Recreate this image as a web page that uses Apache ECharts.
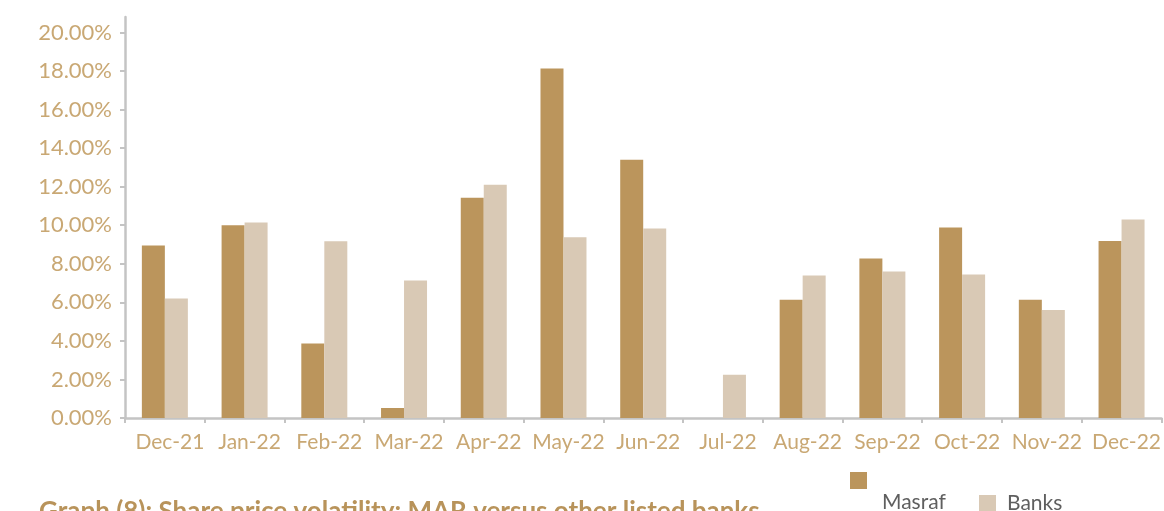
<!DOCTYPE html>
<html>
<head>
<meta charset="utf-8">
<script src="https://cdn.jsdelivr.net/npm/echarts@6/dist/echarts.min.js"></script>
<style>
  html, body { margin: 0; padding: 0; background: #fff; }
  #chart { width: 1164px; height: 511px; }
</style>
</head>
<body>
<div id="chart"></div>
<script>
  // months on the x axis
  var months = ['Dec-21', 'Jan-22', 'Feb-22', 'Mar-22', 'Apr-22', 'May-22', 'Jun-22',
                'Jul-22', 'Aug-22', 'Sep-22', 'Oct-22', 'Nov-22', 'Dec-22']
  // volatility, in %
  var masraf = [8.95, 10.0, 3.87, 0.52, 11.43, 18.13, 13.4, 0, 6.14, 8.27, 9.88, 6.14, 9.18]
  var banks = [6.2, 10.14, 9.17, 7.13, 12.1, 9.38, 9.83, 2.24, 7.39, 7.6, 7.44, 5.6, 10.29]
  var yTicks = [0, 2, 4, 6, 8, 10, 12, 14, 16, 18, 20]

  var labelColor = '#c9a874'
  var axisColor = '#c4c4c4'
  var font = 'Lato, "DejaVu Sans", sans-serif'

  // legend text sits lower than its swatch in the original
  function legendText(name) { return '{t|' + name + '}' }

  var chart = echarts.init(document.getElementById('chart'))
  var option = {
    animation: false,
    color: ['#bb955c', '#d9c9b5'],
    title: {
      text: 'Graph (8): Share price volatility: MAR versus other listed banks',
      left: 34,
      top: 494,
      textStyle: {
        color: '#b8935a',
        fontFamily: font,
        fontWeight: 'bold',
        fontSize: 26
      }
    },
    legend: [
      {
        left: 850,
        top: 472,
        padding: 0,
        itemWidth: 17,
        itemHeight: 17,
        icon: 'rect',
        data: ['Masraf'],
        formatter: legendText,
        textStyle: {
          rich: {
            t: { color: '#5f5f5f', fontFamily: font, fontSize: 21, padding: [43, 0, 0, 10] }
          }
        }
      },
      {
        left: 979,
        top: 493,
        padding: 0,
        itemWidth: 17,
        itemHeight: 17,
        icon: 'rect',
        data: ['Banks'],
        formatter: legendText,
        textStyle: {
          rich: {
            t: { color: '#5f5f5f', fontFamily: font, fontSize: 21, padding: [0, 0, 0, 6] }
          }
        }
      }
    ],
    grid: {
      left: 125,
      right: 2,
      top: 17,
      bottom: 93
    },
    xAxis: {
      type: 'category',
      data: months,
      axisLine: { lineStyle: { color: axisColor, width: 2.5 } },
      axisTick: { show: true, length: 5, lineStyle: { color: axisColor, width: 2 } },
      axisLabel: {
        color: labelColor,
        fontFamily: font,
        fontSize: 21,
        margin: 14,
        padding: [0, 0, 0, 10],
        interval: 0
      }
    },
    yAxis: {
      type: 'value',
      min: 0,
      max: 20.8,
      splitLine: { show: false },
      axisLine: { show: true, lineStyle: { color: axisColor, width: 2.5 } },
      axisTick: { show: true, length: 5, customValues: yTicks, lineStyle: { color: axisColor, width: 2 } },
      axisLabel: {
        color: labelColor,
        fontFamily: font,
        fontSize: 22,
        margin: 13,
        customValues: yTicks,
        formatter: function (v) { return v.toFixed(2) + '%' }
      }
    },
    series: [
      {
        name: 'Masraf',
        type: 'bar',
        data: masraf,
        barWidth: 23,
        barGap: '0%'
      },
      {
        name: 'Banks',
        type: 'bar',
        data: banks,
        barWidth: 23,
        barGap: '0%'
      }
    ]
  }
  chart.setOption(option)
</script>
</body>
</html>
